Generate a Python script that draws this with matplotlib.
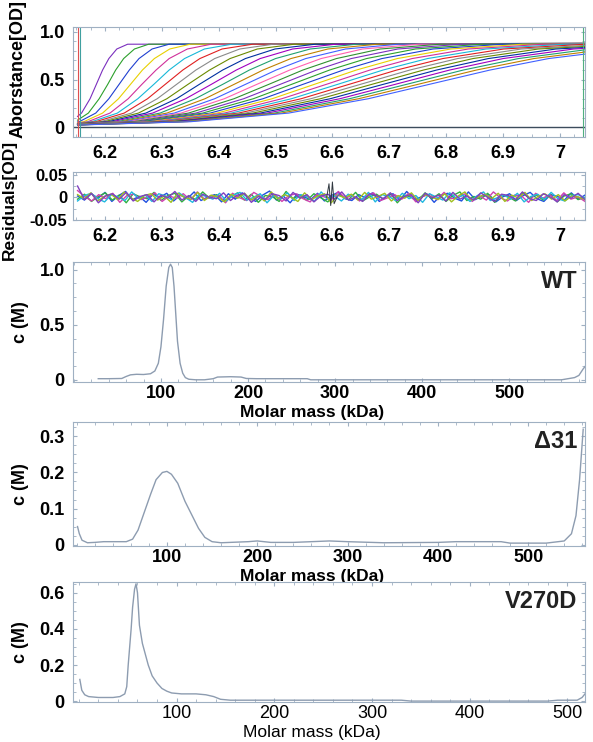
import numpy as np
import matplotlib
matplotlib.use("Agg")
import matplotlib.pyplot as plt
from matplotlib.ticker import MultipleLocator

plt.rcParams['font.family'] = ['Liberation Sans', 'DejaVu Sans']

# ---- raw absorbance scans: radius (cm) where each scan crosses these levels
scan_levels = [0.06, 0.15, 0.30, 0.45, 0.60, 0.72, 0.82, 0.87]
scan_radii = [
    [6.141, 6.159, 6.174, 6.185, 6.196, 6.207, 6.221, 6.240],
    [6.148, 6.171, 6.190, 6.205, 6.219, 6.233, 6.252, 6.277],
    [6.155, 6.184, 6.207, 6.225, 6.243, 6.260, 6.283, 6.313],
    [6.163, 6.196, 6.224, 6.245, 6.266, 6.287, 6.314, 6.350],
    [6.170, 6.209, 6.241, 6.265, 6.290, 6.313, 6.345, 6.387],
    [6.177, 6.222, 6.258, 6.286, 6.313, 6.340, 6.375, 6.423],
    [6.184, 6.234, 6.275, 6.306, 6.337, 6.367, 6.406, 6.460],
    [6.192, 6.247, 6.292, 6.326, 6.360, 6.393, 6.437, 6.496],
    [6.199, 6.259, 6.309, 6.346, 6.384, 6.420, 6.468, 6.533],
    [6.206, 6.272, 6.326, 6.366, 6.407, 6.447, 6.499, 6.570],
    [6.213, 6.284, 6.342, 6.387, 6.431, 6.473, 6.530, 6.606],
    [6.221, 6.297, 6.359, 6.407, 6.454, 6.500, 6.561, 6.643],
    [6.228, 6.309, 6.376, 6.427, 6.478, 6.527, 6.592, 6.679],
    [6.235, 6.322, 6.393, 6.447, 6.501, 6.553, 6.623, 6.716],
    [6.242, 6.334, 6.410, 6.467, 6.525, 6.580, 6.653, 6.752],
    [6.250, 6.347, 6.427, 6.488, 6.548, 6.607, 6.684, 6.789],
    [6.257, 6.360, 6.444, 6.508, 6.572, 6.633, 6.715, 6.826],
    [6.264, 6.372, 6.461, 6.528, 6.595, 6.660, 6.746, 6.862],
    [6.272, 6.385, 6.478, 6.548, 6.619, 6.687, 6.777, 6.899],
    [6.279, 6.397, 6.494, 6.568, 6.642, 6.714, 6.808, 6.935],
    [6.286, 6.410, 6.511, 6.589, 6.666, 6.740, 6.839, 6.972],
    [6.293, 6.422, 6.528, 6.609, 6.689, 6.767, 6.870, 7.009],
    [6.300, 6.435, 6.545, 6.629, 6.713, 6.794, 6.901, 7.045],
    [6.308, 6.447, 6.562, 6.649, 6.736, 6.820, 6.932, 7.082],
    [6.315, 6.460, 6.579, 6.669, 6.760, 6.847, 6.962, 7.118],
    [6.322, 6.473, 6.596, 6.689, 6.783, 6.874, 6.993, 7.155],
    [6.329, 6.485, 6.613, 6.710, 6.806, 6.900, 7.024, 7.192],
    [6.337, 6.498, 6.630, 6.730, 6.830, 6.927, 7.055, 7.228],
    [6.344, 6.510, 6.646, 6.750, 6.853, 6.954, 7.086, 7.265],
    [6.351, 6.523, 6.663, 6.770, 6.877, 6.980, 7.117, 7.301],
]
scan_start = [0.115, 0.076, 0.058, 0.050, 0.045, 0.042, 0.040, 0.038, 0.036, 0.035,
              0.034, 0.033, 0.033, 0.032, 0.032, 0.031, 0.031, 0.030, 0.030, 0.030,
              0.029, 0.029, 0.028, 0.028, 0.028, 0.027, 0.027, 0.026, 0.026, 0.025]
meniscus = 6.152
plateau = 0.885

# ---- fit residuals (milli-OD)
res_blue = [3, -6, 8, -2, 11, -9, 4, 13, -5, 2, -11, 7, 0, 9, -8, 5, -3, 12, -7, 1, 6, -10, 8, -4, 10,
            -2, -9, 5, 14, -6, 3, -12, 7, 1, -5, 9, -8, 4, 11, -3, -7, 6, -1, 10, -9, 2, 8, -6, 13, -4,
            0, 7, -11, 5, 9, -2, -8, 12, -5, 3, 6, -10, 1, 8, -7, 4, 11, -3, -9, 6, 2, -6, 10, -4, 5]
res_green = [-4, 7, -9, 2, 10, -6, 5, -12, 8, 1, -3, 11, -7, 4, 9, -10, 3, -5, 12, -2, 6, -8, 0, 10, -6,
             7, -11, 4, 2, -9, 13, -3, 5, -7, 8, -1, -10, 6, 3, -5, 11, -8, 1, 7, -4, 9, -12, 5, 0, -6,
             10, -3, 8, -9, 4, 12, -7, 2, -4, 9, -11, 6, 1, -8, 10, -2, 5, -6, 7, -10, 3, 8, -5, 0]
res_magenta = [15, 2, -8, 6, -3, 9, -11, 4, 7, -5, 1, 10, -9, 3, -2, 8, -6, 12, -4, 0, 5, -12, 9, -1, -7,
               11, 2, -5, 6, -9, 4, 8, -3, -10, 7, 1, -6, 13, -2, 5, -8, 3, 10, -7, -1, 6, -4, 9, -10, 2,
               7, -5, 11, -3, 0, 8, -9, 4, -6, 12, -1, -8, 5, 3, -11, 9, -2, 6, -7, 10, -4, 1, -9]
res_cyan = [-8, 4, 9, -3, -10, 6, 1, -7, 12, -2, 5, -9, 8, 3, -6, 10, -1, -11, 7, 2, -4, 9, -8, 5, 11,
            -6, 0, 8, -12, 4, -3, 10, -7, 6, 1, -9, 12, -4, 3, -8, 7, 0, -5, 11, -10, 6, 2, -7, 9, -3,
            4, -11, 8, 1, -6, 10, -2, 5, -9, 3, 12, -7, -1, 6, -4, 9, -10, 2, 7, -5, 11, -3, -8, 4, 6, -2]
res_lime = [6, -3, 10, -8, 2, 7, -5, 12, -1, -9, 4, 8, -6, 3, -11, 9, 0, -4, 11, -7, 5, 1, -10, 7, -2,
            9, -6, 4, -8, 12, -3, 6, 0, -9, 10, -5, 3, 8, -12, 5, -1, 7, -6, 11, -4, 2, 9, -8, 4, -2,
            10, -7, 6, 1, -5, 8, -10, 3, 12, -6, 0, 7, -3, 9, -9, 5, -1, 11, -7, 2, 8, -4, 6, -8, 3, 1, -5]
res_purple = [25, -5, 9, -12, 3, 8, -4, 11, -8, 2, 6, -10, 5, -1, 13, -6, 4, -9, 7, 0, -3, 10, -7, 5, 9,
              -11, 2, -5, 8, 4, -8, 11, -2, 6, -10, 3, 7, -4, 12, -6, 1, -9, 8, 4, -3, 10, -7, 2, 6, -12,
              9, -1, 5, -8, 11, -4, 3, -6, 10, 0, -9, 7, 4, -5, 12, -3, -7, 8, 1, -10, 6, -2, 9, -5]
spike_r = [6.590, 6.594, 6.597, 6.600, 6.603, 6.608]
spike_v = [0, 30, -18, 34, -14, 0]

# ---- c(M) distributions
wt_mass = [28, 40, 55, 60, 65, 72, 80, 88, 93, 97, 100, 103, 106, 109, 111, 113, 115, 117, 119, 122,
           125, 128, 132, 140, 150, 160, 165, 180, 192, 198, 210, 240, 268, 272, 400, 560, 575, 580, 585, 588]
wt_c = [0.01, 0.01, 0.012, 0.03, 0.045, 0.05, 0.048, 0.055, 0.08, 0.15, 0.3, 0.55, 0.85, 1.02, 1.05, 1.02,
        0.85, 0.6, 0.35, 0.15, 0.06, 0.02, 0.005, 0.0, 0.0, 0.01, 0.025, 0.028, 0.025, 0.012, 0.01, 0.01,
        0.01, 0.0, 0.0, 0.0, 0.02, 0.04, 0.10, 0.13]

d31_mass = [1, 3, 6, 12, 20, 30, 55, 62, 68, 75, 82, 88, 95, 100, 105, 112, 120, 128, 135, 142, 150, 160,
            190, 200, 215, 240, 260, 280, 300, 340, 400, 420, 470, 480, 520, 540, 548, 553, 557, 559, 561]
d31_c = [0.05, 0.03, 0.012, 0.005, 0.006, 0.008, 0.008, 0.015, 0.04, 0.09, 0.14, 0.18, 0.2, 0.203, 0.195,
         0.17, 0.12, 0.08, 0.045, 0.02, 0.008, 0.005, 0.008, 0.01, 0.006, 0.006, 0.008, 0.01, 0.008, 0.005,
         0.006, 0.008, 0.008, 0.004, 0.004, 0.01, 0.03, 0.08, 0.18, 0.25, 0.32]

v270d_mass = [1, 3, 6, 10, 20, 35, 42, 47, 49, 50.5, 52, 53.5, 55, 57, 58.5, 60, 62, 65, 68, 71, 75, 80,
              85, 90, 95, 105, 120, 130, 138, 145, 155, 200, 300, 330, 340, 480, 490, 510, 515, 518]
v270d_c = [0.12, 0.06, 0.035, 0.025, 0.02, 0.02, 0.025, 0.04, 0.08, 0.2, 0.3, 0.4, 0.52, 0.62, 0.65, 0.6,
           0.42, 0.32, 0.26, 0.2, 0.14, 0.1, 0.07, 0.055, 0.045, 0.04, 0.04, 0.035, 0.025, 0.01, 0.005,
           0.005, 0.005, 0.005, 0.0, 0.0, 0.005, 0.005, 0.02, 0.04]

scan_colors = ['#7b2fbe', '#2ca02c', '#1f3fd0', '#e8d000', '#d0309a', '#18b8d8', '#e02020', '#8a8a8a',
               '#6a8a00', '#0030a0', '#a000c0', '#20a070', '#c08000', '#4060ff', '#ff60b0', '#309030']
spine_col = '#9fb0c2'
line_col = '#8d9cb0'
tick_font = dict(fontsize=13, fontweight='bold')


def style(ax, xminor, yminor, xpad):
    for s in ax.spines.values():
        s.set_color(spine_col)
        s.set_linewidth(0.8)
    ax.xaxis.set_minor_locator(MultipleLocator(xminor))
    ax.yaxis.set_minor_locator(MultipleLocator(yminor))
    ax.tick_params(which='both', direction='in', top=True, right=True, color=spine_col)
    ax.tick_params(which='major', length=3)
    ax.tick_params(axis='x', which='major', pad=xpad)
    ax.tick_params(axis='y', which='major', pad=6)
    ax.tick_params(which='minor', length=2)


fig = plt.figure(figsize=(5.93, 7.42), dpi=100)
W, H = 593.0, 742.0


def add_axes(top, bottom, left=73, right=585):
    return fig.add_axes([left / W, 1 - bottom / H, (right - left) / W, (bottom - top) / H])


# ---- raw data panel
ax1 = add_axes(27, 137)
for i, radii in enumerate(scan_radii):
    r = [meniscus] + [x for x in radii if x > meniscus] + [7.6]
    a = [scan_start[i]] + [lv for x, lv in zip(radii, scan_levels) if x > meniscus] + [plateau]
    ax1.plot(r, a, color=scan_colors[i % len(scan_colors)], lw=0.8)
ax1.axhline(0, color='#3c4c5c', lw=1.0)
ax1.axvline(6.153, color='#e05050', lw=0.8)
ax1.axvline(6.156, color='#40a0a0', lw=0.8)
ax1.axvline(7.04, color='#50b080', lw=0.8)
ax1.set_xlim(6.144, 7.044)
ax1.set_ylim(-0.1, 1.05)
style(ax1, 0.025, 0.1, 6)
ax1.set_xticks([6.2, 6.3, 6.4, 6.5, 6.6, 6.7, 6.8, 6.9, 7.0])
ax1.set_xticklabels(['6.2', '6.3', '6.4', '6.5', '6.6', '6.7', '6.8', '6.9', '7'], **tick_font)
ax1.set_yticks([0, 0.5, 1.0])
ax1.set_yticklabels(['0', '0.5', '1.0'], **tick_font)
ax1.set_ylabel('Aborstance[OD]', fontsize=13, fontweight='bold')
ax1.yaxis.set_label_coords(-0.09, 0.62)

# ---- residuals panel
ax2 = add_axes(172, 220)
for vals, col in [(res_blue, '#2050e0'), (res_green, '#30b040'), (res_magenta, '#d040b0'),
                  (res_cyan, '#20b8e0'), (res_lime, '#a0c020'), (res_purple, '#8040c0')]:
    ax2.plot(np.linspace(6.152, 7.044, len(vals)), np.array(vals) / 1000.0, color=col, lw=1.0)
ax2.plot(spike_r, np.array(spike_v) / 1000.0, color='#303840', lw=0.7)
ax2.set_xlim(6.144, 7.044)
ax2.set_ylim(-0.05, 0.056)
style(ax2, 0.025, 0.025, 6)
ax2.set_xticks([6.2, 6.3, 6.4, 6.5, 6.6, 6.7, 6.8, 6.9, 7.0])
ax2.set_xticklabels(['6.2', '6.3', '6.4', '6.5', '6.6', '6.7', '6.8', '6.9', '7'], **tick_font)
ax2.set_yticks([-0.05, 0, 0.05])
ax2.set_yticklabels(['-0.05', '0', '0.05'], fontsize=12, fontweight='bold')
ax2.tick_params(axis='y', which='major', pad=4)
ax2.set_ylabel('Residuals[OD]', fontsize=12.5, fontweight='bold')
ax2.yaxis.set_label_coords(-0.11, 0.42)


# ---- c(M) panels
def cm_panel(top, bottom, mass, conc, xlim, ylim, yticks, ylabels, name, weight):
    ax = add_axes(top, bottom)
    ax.plot(mass, conc, color=line_col, lw=1.0)
    ax.set_xlim(*xlim)
    ax.set_ylim(*ylim)
    style(ax, 20, (yticks[1] - yticks[0]) / 4, 2)
    ax.set_xticks([100, 200, 300, 400, 500])
    ax.set_xticklabels(['100', '200', '300', '400', '500'], fontsize=13, fontweight=weight)
    ax.set_yticks(yticks)
    ax.set_yticklabels(ylabels, **tick_font)
    ax.set_xlabel('Molar mass (kDa)', fontsize=12.5, fontweight=weight)
    ax.xaxis.set_label_coords(0.467, -23.0 / (bottom - top))
    ax.set_ylabel('c (M)', fontsize=13, fontweight='bold')
    ax.yaxis.set_label_coords(-0.085, 0.5)
    ax.text(0.985, 0.84, name, transform=ax.transAxes, ha='right', va='center',
            fontsize=17, fontweight='bold', color='#222222')
    return ax


cm_panel(262, 382, wt_mass, wt_c, (-1, 587), (-0.02, 1.07), [0, 0.5, 1.0], ['0', '0.5', '1.0'], 'WT', 'bold')
cm_panel(422, 546, d31_mass, d31_c, (-4, 563), (-0.004, 0.34), [0, 0.1, 0.2, 0.3],
         ['0', '0.1', '0.2', '0.3'], '\u039431', 'bold')
cm_panel(582, 702, v270d_mass, v270d_c, (-6, 518), (-0.005, 0.66), [0, 0.2, 0.4, 0.6],
         ['0', '0.2', '0.4', '0.6'], 'V270D', 'normal')

fig.savefig('out.png', dpi=100, facecolor='white')
